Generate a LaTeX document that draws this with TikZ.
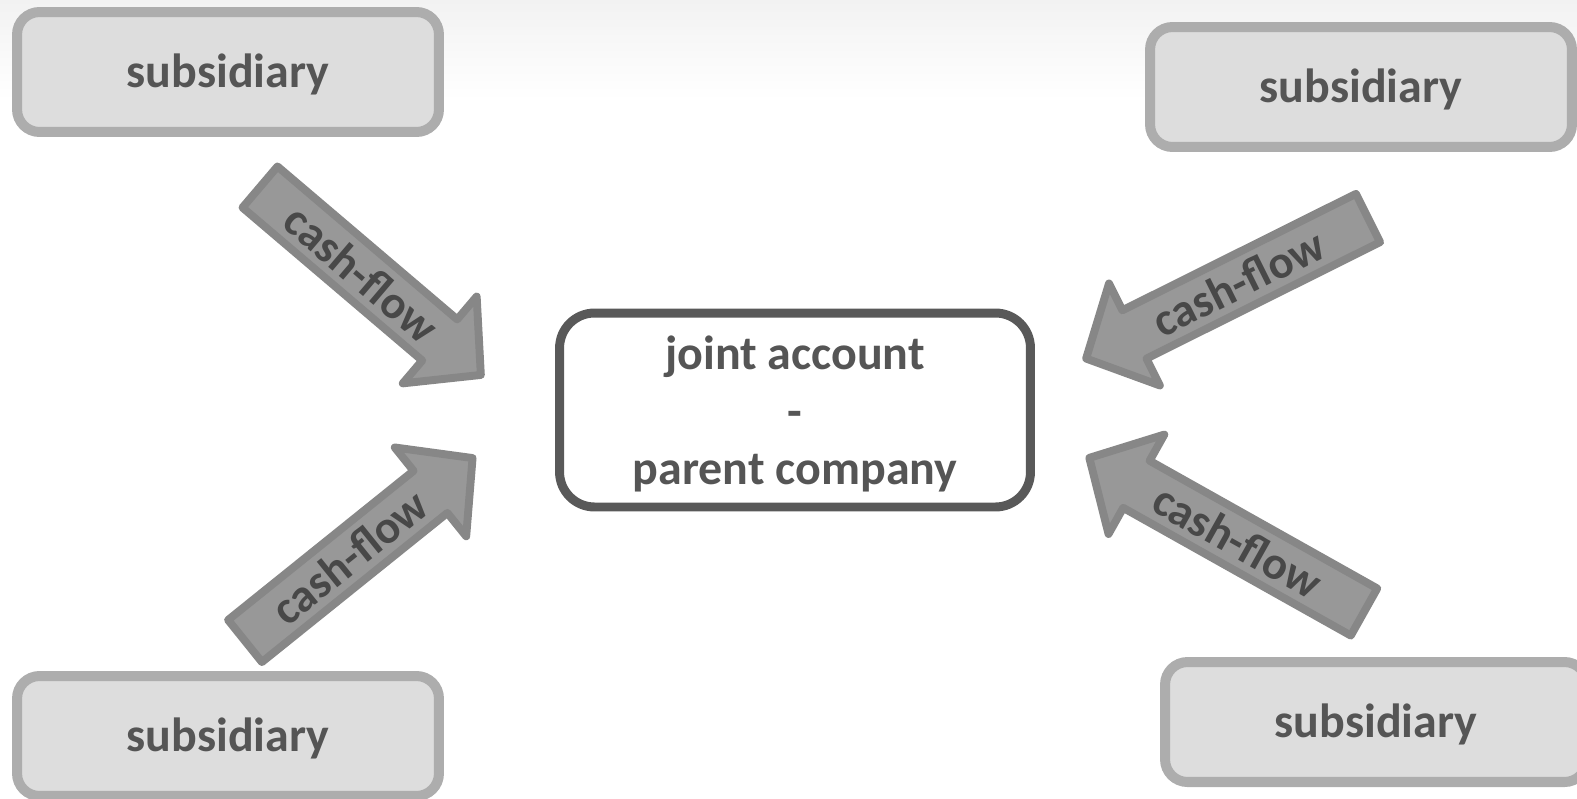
\documentclass[tikz,border=0pt]{standalone}
\usepackage{fontspec}
\setmainfont{Carlito}

\definecolor{bgtop}{HTML}{F2F2F2}
\definecolor{subfill}{HTML}{DDDDDD}
\definecolor{subline}{HTML}{ADADAD}
\definecolor{mainline}{HTML}{595959}
\definecolor{flowfill}{HTML}{989898}
\definecolor{flowline}{HTML}{878787}
\definecolor{labelgray}{HTML}{555555}

% block arrow: tail, angle, length, text angle, name of label
\newcommand{\cashflow}[5]{%
    \begin{scope}[shift={(#1)}, rotate=#2]
        \draw [flowarrow] (0,-27) -- ({#3-54},-27) -- ({#3-54},-57) -- (#3,0)
              -- ({#3-54},57) -- ({#3-54},27) -- (0,27) -- cycle;
        \node [flowtext, rotate=#4] (#5) at ({0.46*#3},0) {cash-flow};
    \end{scope}}

\begin{document}
\begin{tikzpicture}[x=0.02cm, y=-0.02cm,
        subbox/.style={draw=subline, fill=subfill, line width=5.7pt, rounded corners=0.45cm,
                       minimum width=8.44cm, minimum height=2.4cm, text=labelgray,
                       text height=22.8pt, text depth=5.2pt,
                       font=\fontsize{27.3}{32}\selectfont\bfseries},
        mainbox/.style={draw=mainline, fill=white, line width=5.1pt, rounded corners=0.7cm,
                        minimum width=9.42cm, minimum height=3.88cm, align=center, text=labelgray,
                        font=\fontsize{27.3}{32.7}\selectfont\bfseries},
        flowarrow/.style={draw=flowline, fill=flowfill, line width=4.5pt, line join=round},
        flowtext/.style={text=labelgray!85!black, inner sep=0pt,
                         font=\fontsize{26.5}{32}\selectfont\bfseries}]
            \clip (0,0) rectangle (1577,798);                         %Rahmen
            \shade [top color=bgtop, bottom color=white] (0,0) rectangle (1577,100);
            \node [mainbox] (joint) at (795,410) {};
            \node [font=\fontsize{27.3}{32.7}\selectfont\bfseries, text=labelgray, align=center]
                  (joint-text) at (795,414) {joint account\\-\\parent company};
            \node [subbox] (sub-tl) at (228,72) {subsidiary};
            \node [subbox] (sub-tr) at (1361,87) {subsidiary};
            \node [subbox] (sub-bl) at (228,736) {subsidiary};
            \node [subbox] (sub-br) at (1376,722) {subsidiary};
            \coordinate (tail-tl) at (260,187);
            \coordinate (tail-bl) at (245,641);
            \coordinate (tail-tr) at (1368,218);
            \coordinate (tail-br) at (1364,612);
            \cashflow{tail-tl}{-40.4}{290}{-40.4}{flow-tl}
            \cashflow{tail-bl}{38.8}{292}{38.8}{flow-bl}
            \cashflow{tail-tr}{206.5}{315}{26.5}{flow-tr}
            \cashflow{tail-br}{150.7}{315}{-29.3}{flow-br}
        \end{tikzpicture}
\end{document}
